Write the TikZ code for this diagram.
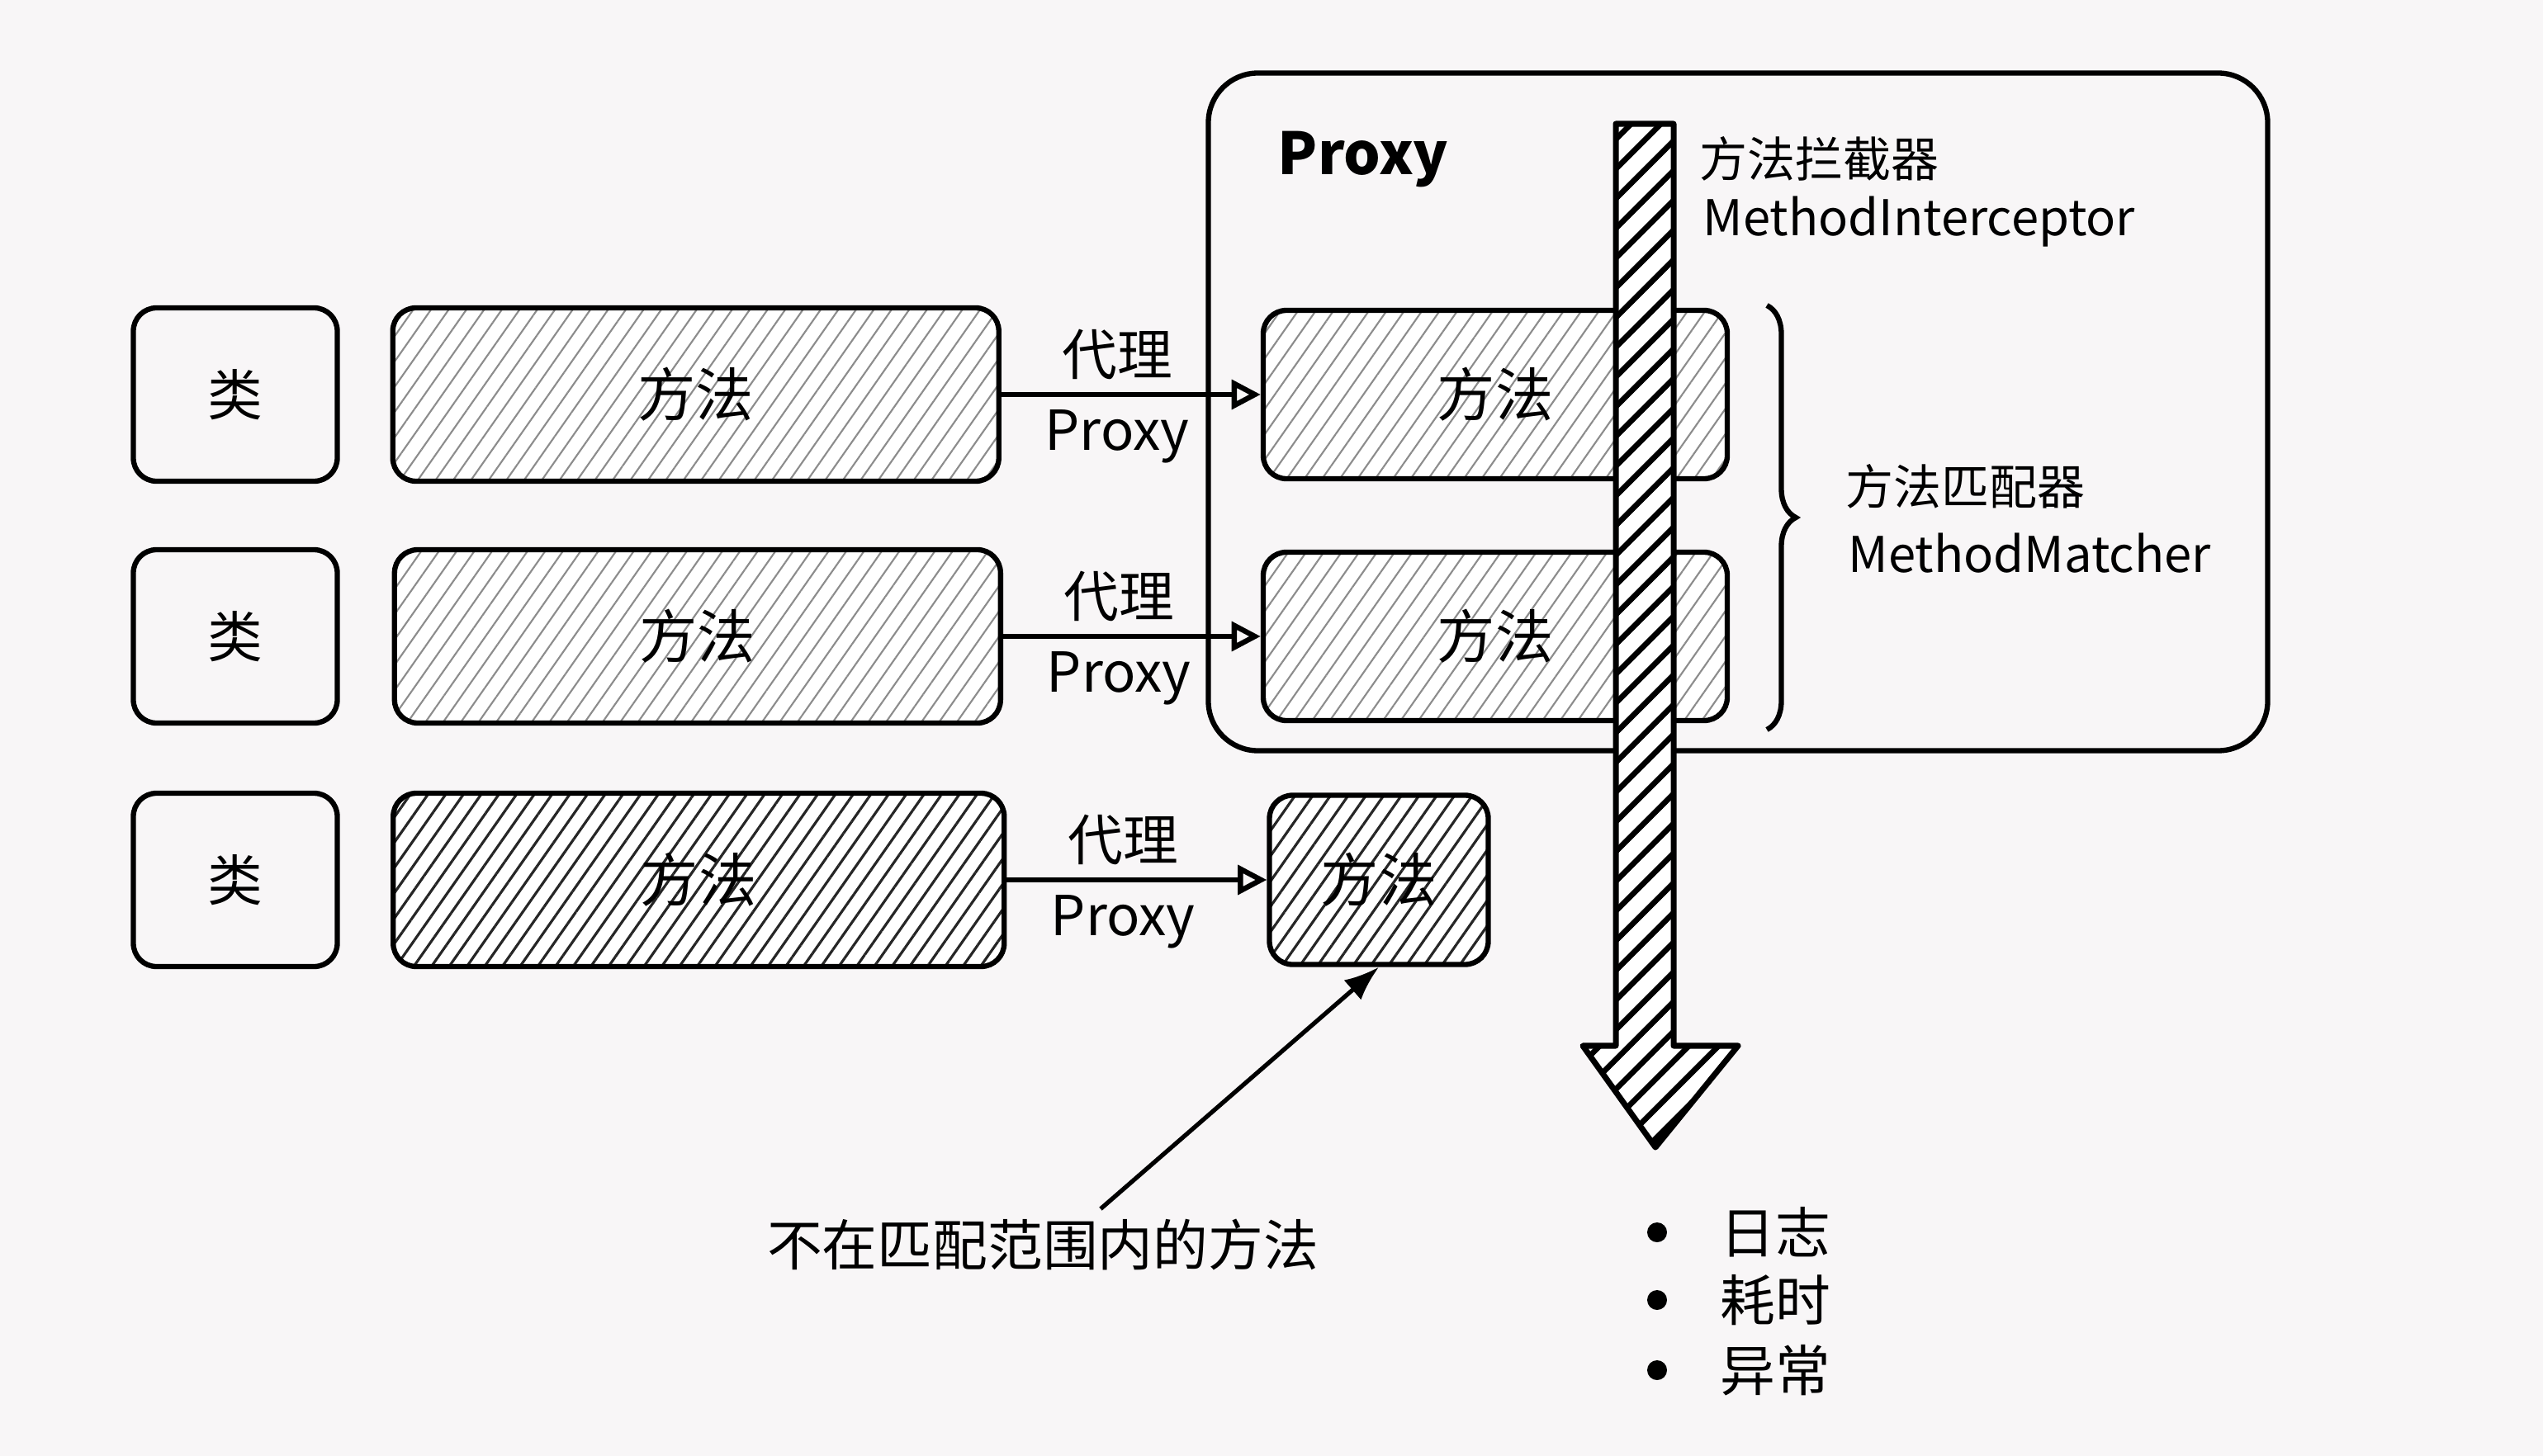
\documentclass[tikz,border=0pt]{standalone}
\usepackage{fontspec}
\setmainfont{Noto Sans CJK SC}
\usetikzlibrary{positioning,arrows.meta,patterns.meta,decorations.pathreplacing}
\definecolor{paper}{RGB}{248,246,247}
\tikzset{
  klass/.style={draw,line width=1.8pt,rounded corners=8pt,minimum width=2.47cm,minimum height=2.1cm,font=\fontsize{19}{22}\selectfont},
  method/.style={draw,line width=1.8pt,rounded corners=8pt,minimum height=2.1cm,font=\fontsize{20}{24}\selectfont,
    preaction={fill=white},pattern={Lines[angle=55,distance=5pt,line width=0.6pt]},pattern color=black!45},
  darkmethod/.style={method,pattern={Lines[angle=55,distance=5pt,line width=0.9pt]},pattern color=black!85},
  proxyarrow/.style={line width=1.8pt,-{Triangle[open,length=10pt,width=10pt]}},
  lbl/.style={font=\fontsize{19}{22}\selectfont},
  side/.style={font=\fontsize{16.5}{20}\selectfont,anchor=west,inner sep=0pt},
  dot/.style={circle,fill,inner sep=0pt,minimum size=0.24cm}
}
\begin{document}
\begin{tikzpicture}[x=1cm,y=1cm]
\fill[paper] (0,0) rectangle (30.8,-17.64);
\useasboundingbox (0,0) rectangle (30.8,-17.64);

% Proxy
\node[draw,line width=1.8pt,rounded corners=0.6cm,minimum width=12.83cm,minimum height=8.21cm] (proxy) at (21.05,-4.99) {};
\node[anchor=west,font=\fontsize{20}{24}\selectfont\bfseries] (ptitle) at ([xshift=0.75cm,yshift=-1.08cm]proxy.north west) {Proxy};

% 类 / 方法
\node[klass] (c1) at (2.85,-4.78) {类};
\node[klass] (c2) at (2.85,-7.71) {类};
\node[klass] (c3) at (2.85,-10.66) {类};
\node[method,minimum width=7.34cm,right=0.63cm of c1] (m1) {方法};
\node[method,minimum width=7.34cm,right=0.63cm of c2] (m2) {方法};
\node[darkmethod,minimum width=7.4cm,right=0.63cm of c3] (m3) {方法};

% 被代理的方法
\node[method,minimum width=5.62cm,minimum height=2.04cm] (p1) at (18.11,-4.78) {方法};
\node[method,minimum width=5.62cm,minimum height=2.04cm] (p2) at (18.11,-7.71) {方法};
\node[darkmethod,minimum width=2.65cm,minimum height=2.05cm] (p3) at (16.7,-10.66) {方法};

\draw[proxyarrow] (m1) -- node[lbl,above=1pt,pos=0.45]{代理} node[lbl,below=1pt,pos=0.45]{Proxy} (p1);
\draw[proxyarrow] (m2) -- node[lbl,above=1pt,pos=0.45]{代理} node[lbl,below=1pt,pos=0.45]{Proxy} (p2);
\draw[proxyarrow] (m3) -- node[lbl,above=1pt,pos=0.45]{代理} node[lbl,below=1pt,pos=0.45]{Proxy} (p3);

% 方法匹配器
\coordinate (btop) at (21.4,-3.7);
\coordinate (bbot) at (21.4,-8.84);
\draw[line width=1.8pt,decorate,decoration={brace,amplitude=0.35cm}] (btop) -- (bbot);
\node[side] (mm1) at (22.35,-5.89) {方法匹配器};
\node[side,font=\fontsize{17}{20}\selectfont] (mm2) at (22.38,-6.7) {MethodMatcher};

% 拦截器箭头
\draw[line width=2pt,line join=round,preaction={fill=white},pattern={Lines[angle=45,distance=0.26cm,line width=2pt]}]
  (19.57,-1.5) -- (20.27,-1.5) -- (20.27,-12.67) -- (21.05,-12.67) -- (20.05,-13.9)
  -- (19.17,-12.67) -- (19.57,-12.67) -- cycle;
\node[side] (mi1) at (20.58,-1.92) {方法拦截器};
\node[side,font=\fontsize{17}{20}\selectfont] (mi2) at (20.62,-2.69) {MethodInterceptor};

% 说明
\node[lbl] (note) at (12.63,-15.08) {不在匹配范围内的方法};
\draw[line width=1.5pt,-{Latex[length=12pt,width=9pt]}] ([xshift=0.7cm]note.north) -- (p3.south);

% 列表
\node[dot] (d1) at (20.07,-14.93) {};
\node[dot] (d2) at (20.07,-15.75) {};
\node[dot] (d3) at (20.07,-16.6) {};
\node[lbl,inner sep=0pt,right=0.63cm of d1] (t1) {日志};
\node[lbl,inner sep=0pt,right=0.63cm of d2] (t2) {耗时};
\node[lbl,inner sep=0pt,right=0.63cm of d3] (t3) {异常};
\end{tikzpicture}
\end{document}
